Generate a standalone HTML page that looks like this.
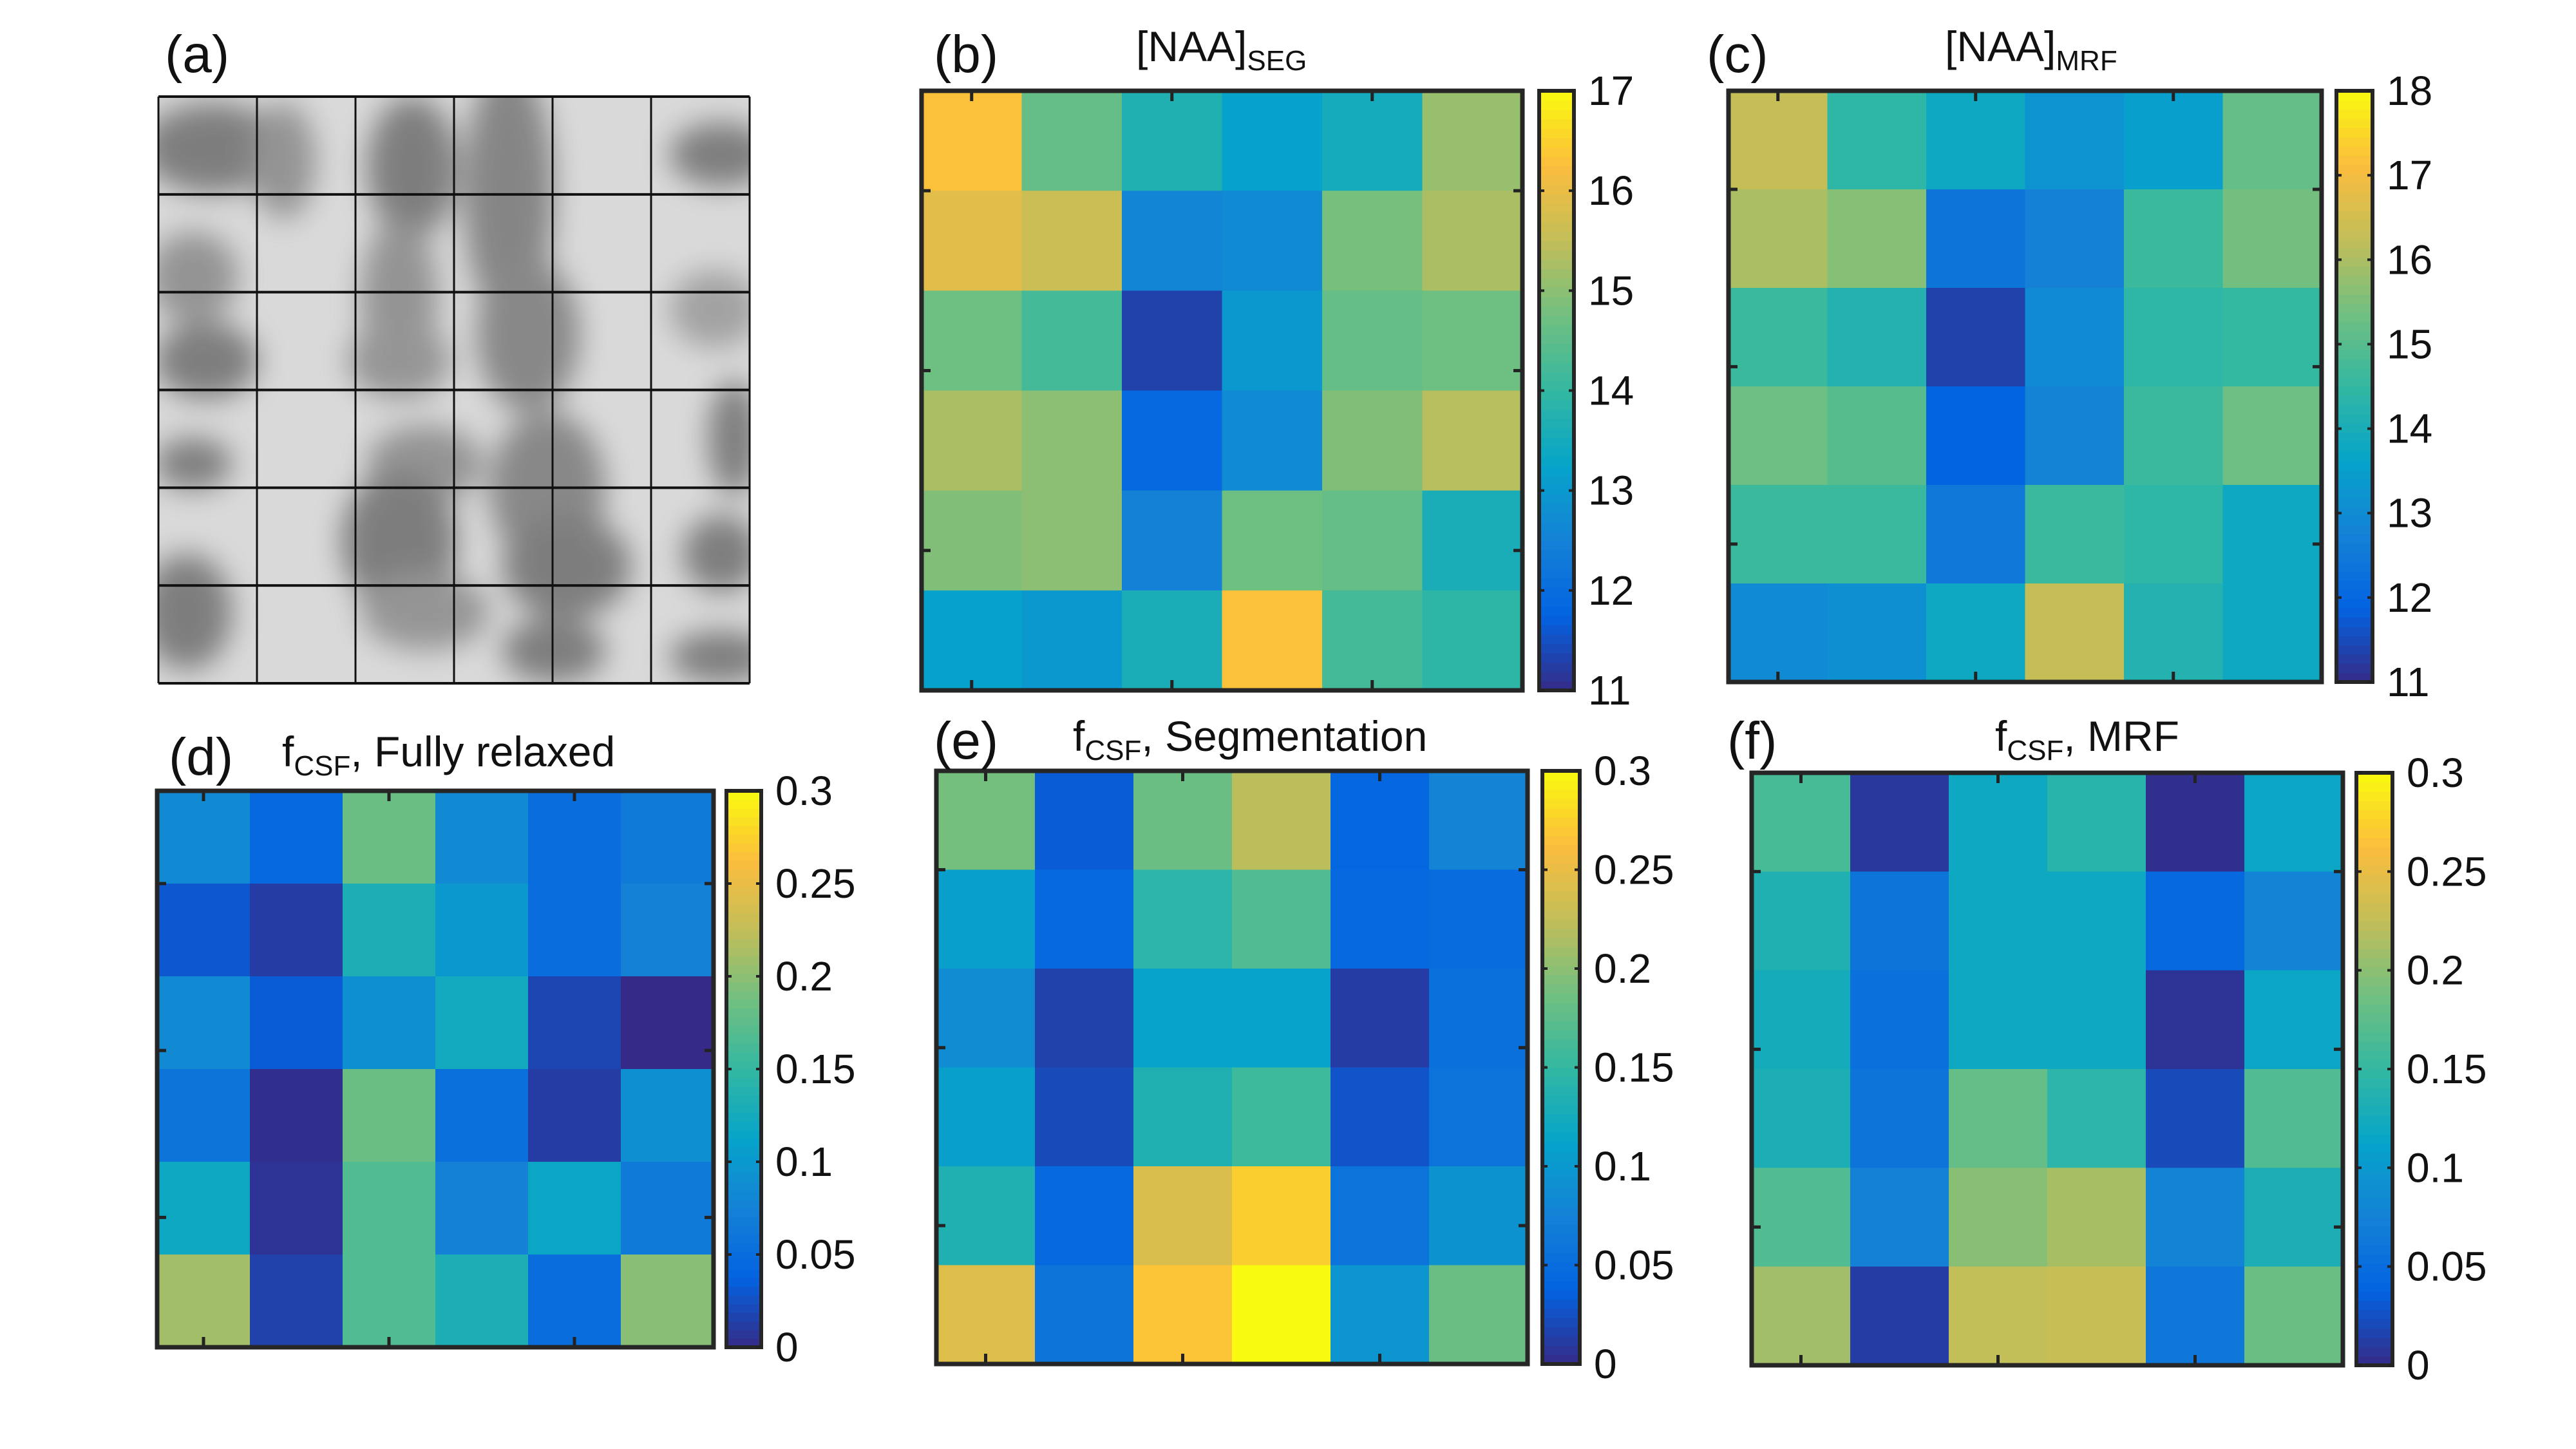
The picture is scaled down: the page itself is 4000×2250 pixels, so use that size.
<!DOCTYPE html>
<html><head><meta charset="utf-8">
<style>
html,body{margin:0;padding:0;background:#fff;}
svg{display:block;}
text{font-family:"Liberation Sans",sans-serif;fill:#111;}
</style></head>
<body>
<svg id="fig" width="4000" height="2250" viewBox="0 0 4000 2250" xmlns="http://www.w3.org/2000/svg">
<defs>
<filter id="blur" x="-20%" y="-20%" width="140%" height="140%"><feGaussianBlur stdDeviation="22"/></filter>
<clipPath id="clipA"><rect x="246" y="150" width="918" height="911"/></clipPath>
</defs>
<g id="panel-a">
  <rect x="246" y="150" width="918" height="911" fill="#d9d9d9"/>
  <g clip-path="url(#clipA)" filter="url(#blur)" fill="#6e6e6e" opacity="0.85">
    <ellipse cx="330" cy="230" rx="110" ry="70"/>
    <ellipse cx="440" cy="250" rx="50" ry="90" fill="#888"/>
    <ellipse cx="640" cy="260" rx="70" ry="110"/>
    <ellipse cx="790" cy="300" rx="70" ry="200" fill="#777"/>
    <ellipse cx="1120" cy="240" rx="80" ry="50"/>
    <ellipse cx="300" cy="430" rx="70" ry="70" fill="#888"/>
    <ellipse cx="620" cy="460" rx="60" ry="120" fill="#888"/>
    <ellipse cx="820" cy="520" rx="80" ry="120" fill="#7a7a7a"/>
    <ellipse cx="320" cy="560" rx="80" ry="60"/>
    <ellipse cx="620" cy="560" rx="80" ry="60" fill="#8a8a8a"/>
    <ellipse cx="1110" cy="480" rx="70" ry="60" fill="#999"/>
    <ellipse cx="1140" cy="680" rx="40" ry="90"/>
    <ellipse cx="660" cy="720" rx="90" ry="60" fill="#888"/>
    <ellipse cx="850" cy="760" rx="90" ry="120" fill="#7a7a7a"/>
    <ellipse cx="300" cy="720" rx="60" ry="40"/>
    <ellipse cx="620" cy="840" rx="90" ry="110"/>
    <ellipse cx="880" cy="880" rx="100" ry="80"/>
    <ellipse cx="290" cy="950" rx="70" ry="90"/>
    <ellipse cx="660" cy="950" rx="100" ry="60" fill="#8a8a8a"/>
    <ellipse cx="860" cy="1010" rx="80" ry="50"/>
    <ellipse cx="1120" cy="860" rx="60" ry="60"/>
    <ellipse cx="1120" cy="1020" rx="80" ry="40"/>
  </g>
  <g id="grid-a"></g>
</g>
<g id="plots"></g>
<g id="labels" font-size="82">
  <text x="256" y="112">(a)</text>
  <text x="1450" y="112">(b)</text>
  <text x="2650" y="112">(c)</text>
  <text x="262" y="1203">(d)</text>
  <text x="1450" y="1178">(e)</text>
  <text x="2682" y="1178">(f)</text>
</g>
<g id="titles" font-size="66">
  <text x="1764" y="95">[NAA]<tspan font-size="44" dy="14">SEG</tspan></text>
  <text x="3020" y="95">[NAA]<tspan font-size="44" dy="14">MRF</tspan></text>
  <text x="438" y="1190">f<tspan font-size="44" dy="14">CSF</tspan><tspan dy="-14">, Fully relaxed</tspan></text>
  <text x="1666" y="1166">f<tspan font-size="44" dy="14">CSF</tspan><tspan dy="-14">, Segmentation</tspan></text>
  <text x="3098" y="1166">f<tspan font-size="44" dy="14">CSF</tspan><tspan dy="-14">, MRF</tspan></text>
</g>
</svg>
<script>
// ---- data ----
const naaSeg = [
 [16.3,14.6,13.7,13.2,13.5,15.1],
 [15.9,15.6,12.6,12.7,14.8,15.3],
 [14.7,14.2,11.3,13.0,14.6,14.7],
 [15.3,15.0,11.9,12.7,14.9,15.4],
 [14.9,15.0,12.5,14.7,14.6,13.6],
 [13.2,13.0,13.6,16.3,14.2,13.9]];
const naaMrf = [
 [16.3,14.4,13.8,13.2,13.5,15.2],
 [16.0,15.6,12.4,12.75,14.6,15.4],
 [14.6,14.2,11.35,13.0,14.4,14.5],
 [15.3,15.0,11.9,12.8,14.6,15.3],
 [14.6,14.6,12.5,14.6,14.4,13.8],
 [13.0,13.1,13.8,16.3,14.2,13.8]];
const fcsfRelaxed = [
 [0.084,0.045,0.183,0.084,0.050,0.066],
 [0.030,0.012,0.132,0.100,0.050,0.075],
 [0.084,0.033,0.090,0.123,0.018,0.000],
 [0.060,0.003,0.183,0.054,0.012,0.090],
 [0.120,0.006,0.168,0.075,0.117,0.066],
 [0.210,0.015,0.168,0.132,0.050,0.198]];
const fcsfSeg = [
 [0.189,0.033,0.183,0.222,0.042,0.078],
 [0.108,0.045,0.144,0.168,0.045,0.048],
 [0.087,0.015,0.111,0.111,0.012,0.054],
 [0.108,0.021,0.135,0.156,0.027,0.057],
 [0.135,0.045,0.240,0.273,0.057,0.093],
 [0.243,0.060,0.267,0.300,0.096,0.183]];
const fcsfMrf = [
 [0.162,0.009,0.120,0.141,0.003,0.117],
 [0.135,0.060,0.120,0.120,0.045,0.078],
 [0.126,0.054,0.120,0.120,0.006,0.117],
 [0.132,0.060,0.180,0.144,0.021,0.168],
 [0.168,0.075,0.198,0.213,0.078,0.132],
 [0.210,0.012,0.225,0.228,0.063,0.183]];
const ticksNaaSeg = [11,12,13,14,15,16,17];
const ticksNaaMrf = [11,12,13,14,15,16,17,18];
const ticksFcsf = [0,0.05,0.1,0.15,0.2,0.25,0.3];
const tickLabelsFcsf = ["0","0.05","0.1","0.15","0.2","0.25","0.3"];

// parula colormap
const PAR=[[0,[53,42,135]],[0.125,[3,99,225]],[0.25,[20,129,214]],[0.375,[6,164,202]],[0.5,[51,184,161]],[0.625,[113,191,128]],[0.75,[194,190,88]],[0.875,[252,189,61]],[1,[249,251,14]]];
function parula(t){
  t=Math.max(0,Math.min(1,t));
  for(let i=1;i<PAR.length;i++){ if(t<=PAR[i][0]){const a=PAR[i-1],b=PAR[i];const f=(t-a[0])/(b[0]-a[0]);
    const c=a[1].map((v,k)=>Math.round(v+(b[1][k]-v)*f));return `rgb(${c[0]},${c[1]},${c[2]})`;}}
  return 'rgb(249,251,14)';
}
const NS='http://www.w3.org/2000/svg';
function mk(tag,attrs,parent){const e=document.createElementNS(NS,tag);for(const k in attrs)e.setAttribute(k,attrs[k]);parent.appendChild(e);return e;}

// grid for panel a
const ga=document.getElementById('grid-a');
for(let i=0;i<=6;i++){
  const x=246+918*i/6, y=150+911*i/6;
  const l1=mk('line',{x1:x,y1:150,x2:x,y2:1061,stroke:'#111','stroke-width':3},ga);
  
  
  const l2=mk('line',{x1:246,y1:y,x2:1164,y2:y,stroke:'#111','stroke-width':4},ga);
  
  
}

const plots=document.getElementById('plots');
function heat(name,data,vmin,vmax,x0,y0,w,h,cx,cw,ticks,tlabels){
  const g=mk('g',{},plots);
  
  
  const n=data.length,m=data[0].length;
  const sx=c=>x0+w*c/m, sy=r=>y0+h*r/n;
  const norm=v=>(v-vmin)/(vmax-vmin);
  data.forEach((row,r)=>row.forEach((v,c)=>{
    const cell=mk('rect',{x:sx(c),y:sy(r),width:w/m+0.5,height:h/n+0.5,fill:parula(norm(v))},g);
    
    
  }));
  // ticks
  for(let c=0.5;c<m;c+=2){
    mk('line',{x1:sx(c),y1:y0,x2:sx(c),y2:y0+16,stroke:'#222','stroke-width':5},g);
    mk('line',{x1:sx(c),y1:y0+h,x2:sx(c),y2:y0+h-16,stroke:'#222','stroke-width':5},g);
  }
  for(let r=1;r<n;r+=1.8){
    mk('line',{x1:x0,y1:sy(r),x2:x0+14,y2:sy(r),stroke:'#222','stroke-width':5},g);
    mk('line',{x1:x0+w,y1:sy(r),x2:x0+w-14,y2:sy(r),stroke:'#222','stroke-width':5},g);
  }
  const fr=mk('rect',{x:x0,y:y0,width:w,height:h,fill:'none',stroke:'#262626','stroke-width':7},g);
  
  
  // colorbar
  const cb=mk('g',{},plots);
  
  
  const steps=64;
  for(let i=0;i<steps;i++){
    mk('rect',{x:cx,y:y0+h-h*(i+1)/steps,width:cw,height:h/steps+0.6,fill:parula((i+0.5)/steps)},cb);
  }
  mk('rect',{x:cx,y:y0,width:cw,height:h,fill:'none',stroke:'#262626','stroke-width':6},cb);
  ticks.forEach((t,i)=>{
    const y=y0+h-h*norm(t);
    mk('line',{x1:cx,y1:y,x2:cx+8,y2:y,stroke:'#222','stroke-width':4},cb);
    mk('line',{x1:cx+cw,y1:y,x2:cx+cw-8,y2:y,stroke:'#222','stroke-width':4},cb);
    const tx=mk('text',{x:cx+cw+22,y:y+22,'font-size':64},cb);
    tx.textContent=tlabels?tlabels[i]:String(t);
    
    
  });
}
heat('heatmap-naa-seg',naaSeg,11,17,1431,141,933,931,2390,54,ticksNaaSeg);
heat('heatmap-naa-mrf',naaMrf,11,18,2684,141,921,918,3628,56,ticksNaaMrf);
heat('heatmap-fcsf-relaxed',fcsfRelaxed,0,0.3,244,1228,864,864,1128,54,ticksFcsf,tickLabelsFcsf);
heat('heatmap-fcsf-seg',fcsfSeg,0,0.3,1454,1197,918,921,2395,58,ticksFcsf,tickLabelsFcsf);
heat('heatmap-fcsf-mrf',fcsfMrf,0,0.3,2720,1200,918,920,3659,56,ticksFcsf,tickLabelsFcsf);
</script>
</body></html>
